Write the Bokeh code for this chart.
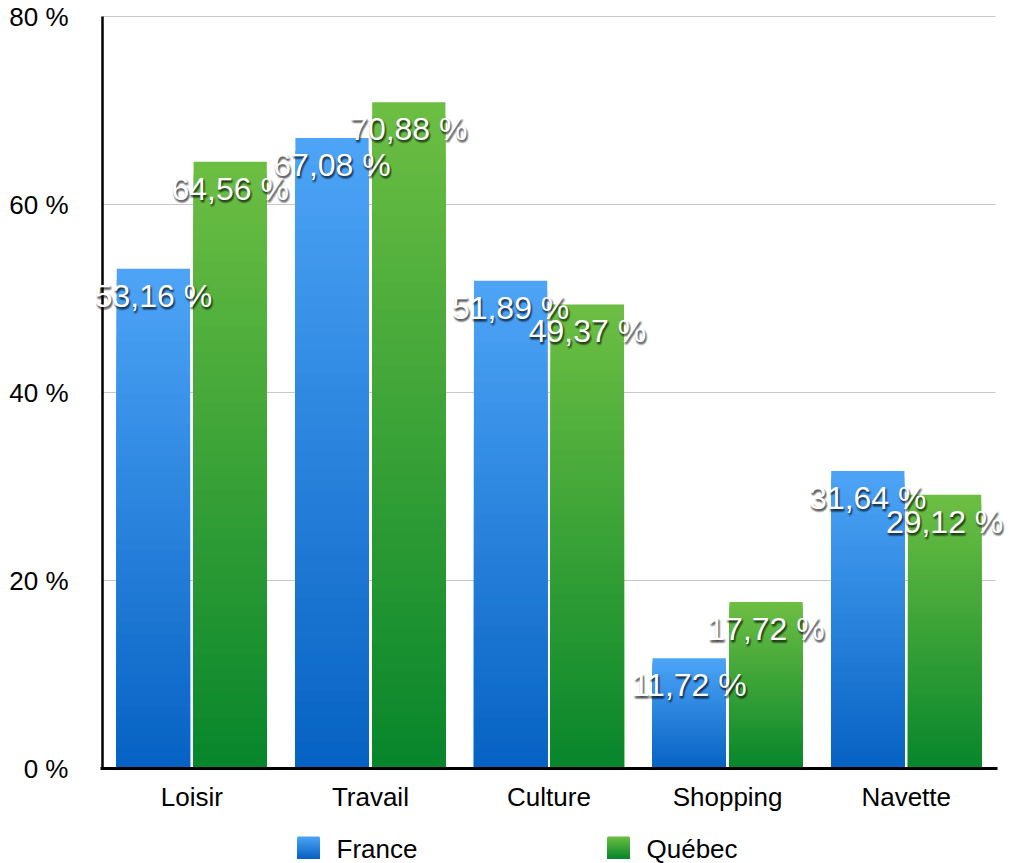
import numpy as np
from bokeh.plotting import figure
from bokeh.models import (ColumnDataSource, Range1d, FixedTicker, LinearAxis,
                          PrintfTickFormatter, Label, Grid)
from bokeh.layouts import column
from bokeh.transform import dodge
from bokeh.embed import file_html
from bokeh.resources import INLINE
from bokeh.core.properties import value

# ---- data -------------------------------------------------------------
categories = ["Loisir", "Travail", "Culture", "Shopping", "Navette"]
series_names = ["France", "Québec"]
france = [53.16, 67.08, 51.89, 11.72, 31.64]
quebec = [64.56, 70.88, 49.37, 17.72, 29.12]
y_ticks = [0, 20, 40, 60, 80]

# ---- layout / style ---------------------------------------------------
FONT = "Liberation Sans"
W, H = 1009, 820                 # chart canvas (legend strip below)
AX_L, AX_R = 102, 995            # pixel span of the category axis
AX_TOP, AX_BOT = 16, 768         # pixel rows of 80 % and 0 %
# (bottom colour, top colour) of each series' vertical gradient
BLUE = ((0x05, 0x61, 0xc2), (0x4d, 0xa4, 0xf6))
GREEN = ((0x06, 0x85, 0x2b), (0x6c, 0xbe, 0x42))
N_STEPS = 48
BAR_W = 0.41
OFFSET = 0.215

n_cat = len(categories)
px_per_cat = (AX_R - AX_L) / n_cat
px_per_pct = (AX_BOT - AX_TOP) / y_ticks[-1]


def lerp_hex(c0, c1, t):
    r, g, b = (int(round(a + (b_ - a) * t)) for a, b_ in zip(c0, c1))
    return "#%02x%02x%02x" % (r, g, b)


def fmt(v):
    return ("%.2f" % v).replace(".", ",") + " %"


# the frame fills the whole canvas so the value labels are never clipped;
# the axes sit at fixed data locations inside it
x_range = Range1d(-AX_L / px_per_cat, n_cat + (W - AX_R) / px_per_cat)
y_range = Range1d(-(H - AX_BOT) / px_per_pct,
                  y_ticks[-1] + AX_TOP / px_per_pct)

p = figure(width=W, height=H, x_range=x_range, y_range=y_range,
           x_axis_type=None, y_axis_type=None,
           output_backend="svg", toolbar_location=None, min_border=0)
p.outline_line_color = None
p.background_fill_color = "white"
p.border_fill_color = "white"
p.xgrid.grid_line_color = None
p.ygrid.grid_line_color = None

cat_pos = [i + 0.5 for i in range(n_cat)]

# y axis
yaxis = LinearAxis(fixed_location=0, bounds=(0, y_ticks[-1]),
                   ticker=FixedTicker(ticks=y_ticks),
                   formatter=PrintfTickFormatter(format="%d %%"))
yaxis.axis_line_color = "black"
yaxis.axis_line_width = 2.5
yaxis.major_tick_line_color = None
yaxis.minor_tick_line_color = None
yaxis.major_label_standoff = 28
yaxis.major_label_text_font = FONT
yaxis.major_label_text_font_size = "26px"
yaxis.major_label_text_color = "black"
p.add_layout(yaxis, "left")

# x axis
xaxis = LinearAxis(fixed_location=0,
                   bounds=(-2 / px_per_cat, n_cat + 2 / px_per_cat),
                   ticker=FixedTicker(ticks=cat_pos),
                   major_label_overrides=dict(zip(cat_pos, categories)))
xaxis.axis_line_color = "black"
xaxis.axis_line_width = 3
xaxis.major_tick_line_color = None
xaxis.minor_tick_line_color = None
xaxis.major_label_standoff = 7
xaxis.major_label_text_font = FONT
xaxis.major_label_text_font_size = "26px"
xaxis.major_label_text_color = "black"
p.add_layout(xaxis, "below")

# horizontal grid lines across the category span
grid = Grid(dimension=1, ticker=FixedTicker(ticks=y_ticks),
            cross_bounds=(0, n_cat),
            grid_line_color="#c8c8c8", grid_line_width=1)
p.add_layout(grid)

series = [(france, -OFFSET, BLUE), (quebec, OFFSET, GREEN)]

# gradient bars: nested bars from tallest (light top) to shortest (dark)
for vals, off, (c_bot, c_top) in series:
    pos, tops, cols = [], [], []
    for k in range(N_STEPS, 0, -1):
        t = k / N_STEPS
        col = lerp_hex(c_bot, c_top, t)
        for x, v in zip(cat_pos, vals):
            pos.append(x)
            tops.append(v * t)
            cols.append(col)
    src = ColumnDataSource(dict(pos=pos, top=tops, color=cols))
    p.vbar(x=dodge("pos", off), top="top", bottom=0,
           width=BAR_W, source=src, fill_color="color", line_color=None)

# value labels with a blurred drop shadow (stack of faint offset copies)
SH_DX, SH_DY, SH_SIGMA = 1, -2, 1.2
shadow = []
for dx in range(-1, 4):
    for dy in range(0, -5, -1):
        w = np.exp(-((dx - SH_DX) ** 2 + (dy - SH_DY) ** 2) / (2 * SH_SIGMA ** 2))
        shadow.append((dx, dy, 0.17 * w))

for vals, off, _ in series:
    for x, v in zip(cat_pos, vals):
        for dx, dy, a in shadow:
            p.add_layout(Label(x=x + off, y=v, text=fmt(v),
                               x_offset=dx, y_offset=-27 + dy,
                               text_align="center", text_baseline="middle",
                               text_font=FONT, text_font_size="32px",
                               text_color="black", text_alpha=float(a)))
        p.add_layout(Label(x=x + off, y=v, text=fmt(v),
                           x_offset=0, y_offset=-27,
                           text_align="center", text_baseline="middle",
                           text_font=FONT, text_font_size="32px",
                           text_color="white"))

# legend strip
leg = figure(width=W, height=43, x_range=Range1d(0, W),
             y_range=Range1d(43, 0), output_backend="svg",
             toolbar_location=None, x_axis_type=None, y_axis_type=None,
             min_border=0)
leg.outline_line_color = None
leg.xgrid.grid_line_color = None
leg.ygrid.grid_line_color = None

swatch_x = [297, 607]
for sx, name, (c_bot, c_top) in zip(swatch_x, series_names, [BLUE, GREEN]):
    ls, rs, ts, bs, cs = [], [], [], [], []
    for k in range(N_STEPS, 0, -1):
        t = k / N_STEPS
        ls.append(sx)
        rs.append(sx + 22)
        bs.append(38)
        ts.append(38 - 22 * t)
        cs.append(lerp_hex(c_bot, c_top, t))
    leg.quad(left=ls, right=rs, top=ts, bottom=bs, fill_color=cs,
             line_color=None)
    leg.text(x=[sx + 39], y=[28], text=[name], text_baseline="middle",
             text_align="left", text_font=value(FONT),
             text_font_size="26px", text_color="black")

layout = column(p, leg, spacing=0)
open("out.html", "w").write(file_html(layout, INLINE))
